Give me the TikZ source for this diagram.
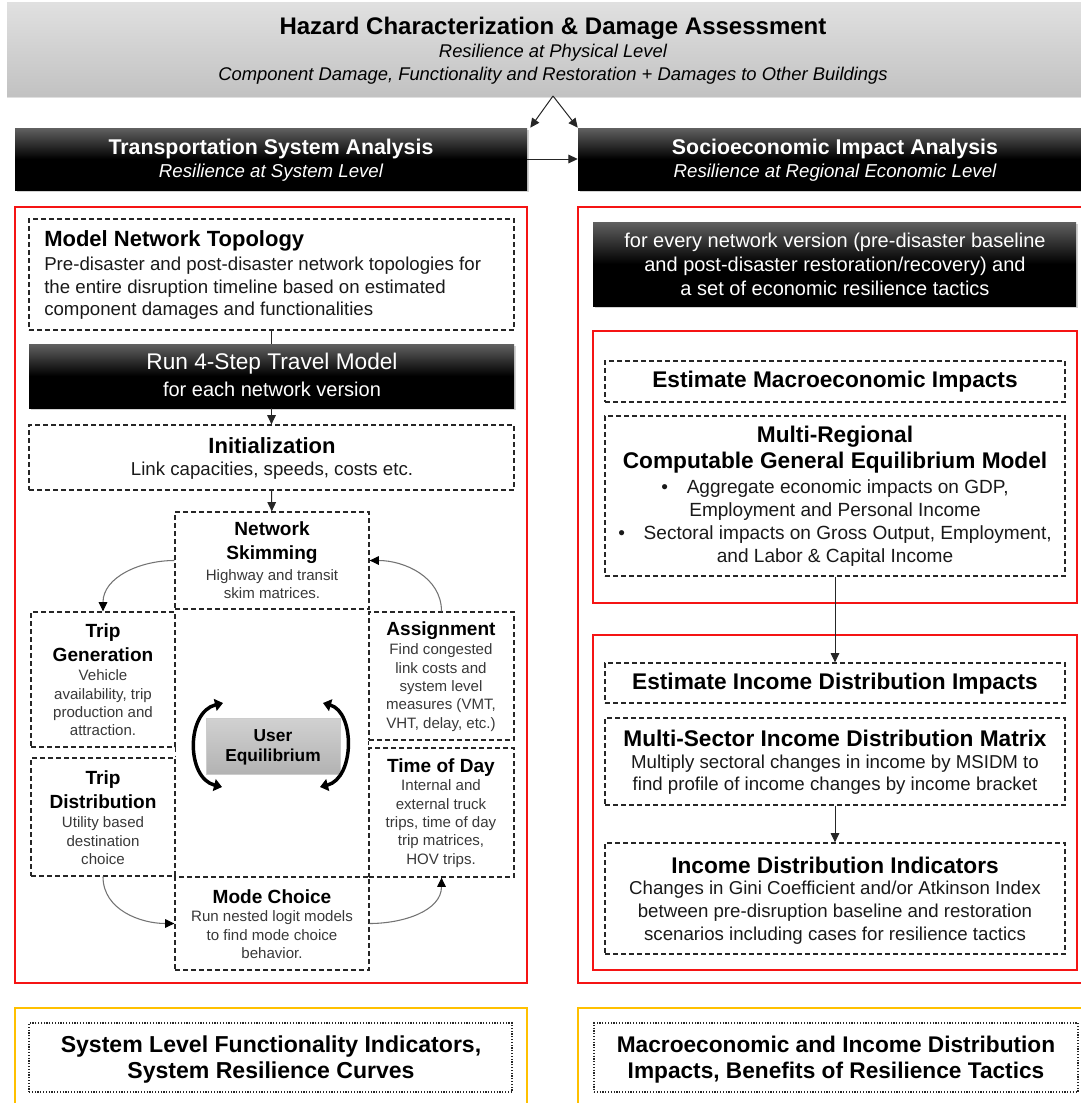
\documentclass[tikz,border=0pt]{standalone}
\usepackage{fontspec}
\setmainfont{Liberation Sans}
\usetikzlibrary{arrows.meta,positioning,fit,shadows,calc}
\definecolor{hzgold}{RGB}{255,192,0}
\definecolor{hzred}{RGB}{245,20,20}

\begin{document}
\begin{tikzpicture}[x=0.75pt, y=-0.75pt,
  frame/.style={draw=hzred, line width=1.5pt, inner sep=0pt},
  goldframe/.style={draw=hzgold, line width=2.2pt, inner sep=0pt},
  dbox/.style={draw=black!85, dash pattern=on 3.6pt off 2.4pt, line width=0.95pt, inner sep=0pt},
  dotbox/.style={draw=black!85, dash pattern=on 0.9pt off 1.2pt, line width=1.1pt, inner sep=0pt},
  blackbox/.style={inner sep=0pt, top color=black!62, bottom color=black, middle color=black, drop shadow={opacity=0.35, shadow xshift=1.2pt, shadow yshift=-1.8pt}},
  wtxt/.style={text=white, align=center, inner sep=0pt},
  ttl/.style={font=\bfseries\fontsize{14.3}{18}\selectfont, align=center, inner sep=0pt},
  bdy/.style={font=\fontsize{11.3}{13.8}\selectfont, text=black!78, align=center, inner sep=0pt},
  bigttl/.style={font=\bfseries\fontsize{17}{19.5}\selectfont, align=center, inner sep=0pt},
  bigbdy/.style={font=\fontsize{14}{17}\selectfont, text=black!90, align=center, inner sep=0pt},
  link/.style={draw=black!85, line width=0.75pt, -{Triangle[length=7pt, width=6.5pt]}},
  cyc/.style={draw=black!55, line width=0.8pt, -{Triangle[length=7pt, width=6.5pt, color=black]}},
  uearc/.style={line width=2.6pt, {Triangle[length=6pt, width=9pt]}-{Triangle[length=6pt, width=9pt]}},
]
\useasboundingbox (0,0) rectangle (1081,1103);

\node[fit={(7,2) (1095,96)}, inner sep=0pt, top color=black!12, bottom color=black!24, drop shadow={opacity=0.25, shadow xshift=0pt, shadow yshift=-1.5pt}] (hd) {};
\node[font=\bfseries\fontsize{18}{22}\selectfont, inner sep=0pt] (hdT) at (553,28) {Hazard Characterization \& Damage Assessment};
\node[font=\itshape\fontsize{13.8}{17.25}\selectfont, align=center, inner sep=0pt] (hdS) at (553,64.5) {Resilience at Physical Level\\Component Damage, Functionality and Restoration + Damages to Other Buildings};

\node[blackbox, fit={(15,128) (527,190)}] (tsa) {};
\node[wtxt, font=\bfseries\fontsize{16}{19}\selectfont] (tsaT) at (271,149) {Transportation System Analysis};
\node[wtxt, font=\itshape\fontsize{14}{17}\selectfont] (tsaS) at (271,173) {Resilience at System Level};
\node[blackbox, fit={(578,128) (1095,190)}] (sia) {};
\node[wtxt, font=\bfseries\fontsize{16}{19}\selectfont] (siaT) at (835,149) {Socioeconomic Impact Analysis};
\node[wtxt, font=\itshape\fontsize{14}{17}\selectfont] (siaS) at (835,173) {Resilience at Regional Economic Level};

\coordinate (hdfoot) at (553,96);
\draw[link] (hdfoot) -- ($(tsa.north east)+(3,0)$);
\draw[link] (hdfoot) -- (sia.north west);
\draw[link] (tsa.east) -- (sia.west);

% transportation side
\node[frame, fit={(15,207) (527,983)}] (lframe) {};
\node[dbox, fit={(29,219) (514,330)}] (mnt) {};
\node[font=\bfseries\fontsize{16.5}{20}\selectfont, anchor=west, inner sep=0pt] (mntT) at (44,241) {Model Network Topology};
\node[font=\fontsize{14}{16.9}\selectfont, text=black!90, anchor=west, align=left, inner sep=0pt] (mntB) at (44,288.5) {Pre-disaster and post-disaster network topologies for\\the entire disruption timeline based on estimated\\component damages and functionalities};

\node[blackbox, fit={(29,344) (514,408)}] (run) {};
\node[wtxt, font=\fontsize{17}{20}\selectfont] (runT) at (272,364) {Run 4-Step Travel Model};
\node[wtxt, font=\fontsize{15}{18}\selectfont] (runS) at (272,389) {for each network version};

\node[dbox, fit={(29,425) (514,490)}] (init) {};
\node[font=\bfseries\fontsize{16.5}{20}\selectfont, inner sep=0pt] (initT) at (272,446) {Initialization};
\node[bigbdy] (initB) at (272,471) {Link capacities, speeds, costs etc.};

\draw[draw=black!85, line width=0.75pt] (mnt) -- (run);
\draw[link] (run) -- (init);

\node[dbox, fit={(175,512) (369,609)}] (ns) {};
\node[fit={(175,609) (369,877)}, inner sep=0pt] (mid) {};
\node[dbox, fit={(175,877) (369,970)}] (mc) {};
\node[dbox, fit={(31,612) (175,747)}] (tg) {};
\node[dbox, fit={(31,758) (175,876)}] (td) {};
\node[dbox, fit={(369,612) (514,740)}] (as) {};
\node[dbox, fit={(369,748) (514,877)}] (tod) {};
\draw[dbox] (tg.south east) -- (td.north east);
\draw[dbox] (as.south west) -- (tod.north west);

\node[ttl] (nsT) at (272,542.5) {Network\\Skimming};
\node[bdy] (nsB) at (272,584) {Highway and transit\\skim matrices.};
\node[ttl] (tgT) at (103,643) {Trip\\Generation};
\node[bdy] (tgB) at (103,703) {Vehicle\\availability, trip\\production and\\attraction.};
\node[ttl] (tdT) at (103,790) {Trip\\Distribution};
\node[bdy] (tdB) at (103,841) {Utility based\\destination\\choice};
\node[ttl] (asT) at (441,631) {Assignment};
\node[bdy] (asB) at (441,687.5) {Find congested\\link costs and\\system level\\measures (VMT,\\VHT, delay, etc.)};
\node[ttl] (todT) at (441,768) {Time of Day};
\node[bdy] (todB) at (441,823.5) {Internal and\\external truck\\trips, time of day\\trip matrices,\\HOV trips.};
\node[ttl] (mcT) at (272,897) {Mode Choice};
\node[bdy] (mcB) at (272,935) {Run nested logit models\\to find mode choice\\behavior.};

\node[fit={(206,718) (340,774)}, inner sep=0pt, top color=black!18, bottom color=black!30, draw=black!20] (ue) {};
\node[font=\bfseries\fontsize{13}{15}\selectfont, align=center, inner sep=0pt] (ueT) at (273,747) {User\\Equilibrium};
\coordinate (ueL1) at (223,703);
\coordinate (ueL2) at (222,787);
\coordinate (ueR1) at (323,703);
\coordinate (ueR2) at (320,787);
\draw[uearc] (ueL1) .. controls (186,712) and (186,778) .. (ueL2);
\draw[uearc] (ueR2) .. controls (355,778) and (355,712) .. (ueR1);

\draw[link] (init) -- (ns);
\draw[cyc] (ns.west) to[out=180, in=90] (tg.north);
\draw[cyc] (td.south) to[out=-90, in=180] (mc.west);
\draw[cyc] (mc.east) to[out=0, in=-90] (tod.south);
\draw[cyc] (as.north) to[out=90, in=0] (ns.east);

% socioeconomic side
\node[frame, fit={(578,207) (1095,983)}] (rframe) {};
\node[blackbox, fit={(593,222) (1076,306)}] (fev) {};
\node[wtxt, font=\fontsize{15}{18}\selectfont] (fevT) at (835,264) {for every network version (pre-disaster baseline\\and post-disaster restoration/recovery) and\\a set of economic resilience tactics};

\node[frame, fit={(593,331) (1077,603)}] (macro) {};
\node[dbox, fit={(605,361) (1065,402)}] (emi) {};
\node[bigttl] (emiT) at (835,382) {Estimate Macroeconomic Impacts};
\node[dbox, fit={(605,416) (1065,576)}] (mrc) {};
\node[bigttl] (mrcT) at (835,450) {Multi-Regional\\Computable General Equilibrium Model};
\node[bigbdy, font=\fontsize{14.3}{17.2}\selectfont] (mrcB) at (835,522.75) {•\hspace{14pt}Aggregate economic impacts on GDP,\\Employment and Personal Income\\•\hspace{14pt}Sectoral impacts on Gross Output, Employment,\\and Labor \& Capital Income};

\node[frame, fit={(593,635) (1077,970)}] (incd) {};
\node[dbox, fit={(605,663) (1065,703)}] (eidi) {};
\node[bigttl] (eidiT) at (835,684) {Estimate Income Distribution Impacts};
\node[dbox, fit={(605,718) (1065,805)}] (msidm) {};
\node[bigttl] (msidmT) at (835,738) {Multi-Sector Income Distribution Matrix};
\node[bigbdy] (msidmB) at (835,774.5) {Multiply sectoral changes in income by MSIDM to\\find profile of income changes by income bracket};
\node[dbox, fit={(605,843) (1065,954)}] (idi) {};
\node[bigttl] (idiT) at (835,865) {Income Distribution Indicators};
\node[bigbdy] (idiB) at (835,912.5) {Changes in Gini Coefficient and/or Atkinson Index\\between pre-disruption baseline and restoration\\scenarios including cases for resilience tactics};

\draw[link] (mrc) -- (eidi);
\draw[link] (msidm) -- (idi);

% results
\node[goldframe, fit={(15,1008) (527,1112)}] (lres) {};
\node[dotbox, fit={(29,1023) (512,1092)}] (lind) {};
\node[font=\bfseries\fontsize{17.3}{19.5}\selectfont, align=center, inner sep=0pt] (lindT) at (271,1060) {System Level Functionality Indicators,\\System Resilience Curves};
\node[goldframe, fit={(578,1008) (1095,1112)}] (rres) {};
\node[dotbox, fit={(594,1023) (1078,1092)}] (rind) {};
\node[font=\bfseries\fontsize{17}{19.5}\selectfont, align=center, inner sep=0pt] (rindT) at (836,1060) {Macroeconomic and Income Distribution\\Impacts, Benefits of Resilience Tactics};
\end{tikzpicture}
\end{document}
